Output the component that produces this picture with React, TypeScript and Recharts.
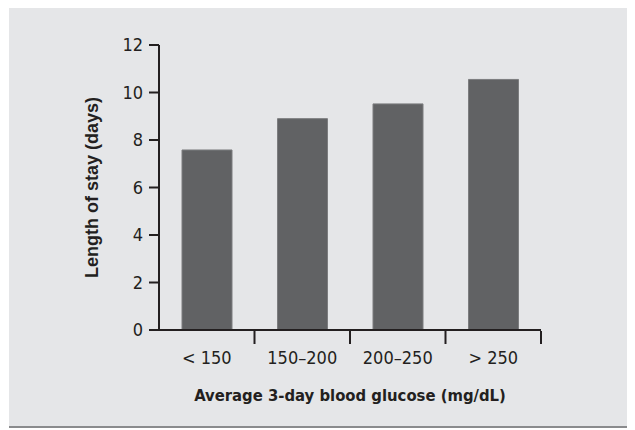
import { BarChart, Bar, XAxis, YAxis, Label } from 'recharts';

const categories = ['< 150', '150–200', '200–250', '> 250'];
const lengthOfStay = [7.58, 8.9, 9.52, 10.55];
const yTicks = [0, 2, 4, 6, 8, 10, 12];
const edgeTicks = [1, 2, 3, 4];

const data = categories.map((c, i) => ({ group: c, days: lengthOfStay[i] }));

const narrow = '"DejaVu Sans Condensed", "Liberation Sans", sans-serif';
const ink = '#231f20';

const NoLabel = () => <g />;

export default function App() {
  return (
    <div
      style={{
        marginLeft: 1,
        width: 626,
        height: 418,
        background: '#e5e6e8',
        borderBottom: '2px solid #8a8b8d',
      }}
    >
      <BarChart width={626} height={418} data={data} margin={{ top: 37, right: 94, bottom: 94, left: 80 }}>
        <XAxis
          xAxisId="cat"
          dataKey="group"
          height={1}
          axisLine={{ stroke: ink, strokeWidth: 2 }}
          tickLine={false}
          tickSize={0}
          tickMargin={21}
          tick={{ fill: ink, fontSize: 18, fontFamily: narrow }}
        >
          <Label
            value="Average 3-day blood glucose (mg/dL)"
            position="bottom"
            offset={58}
            style={{ fill: ink, fontSize: 16.5, fontWeight: 'bold', fontFamily: narrow }}
          />
        </XAxis>
        <XAxis
          xAxisId="edges"
          dataKey="days"
          type="number"
          domain={[0, 4]}
          ticks={edgeTicks}
          interval={0}
          allowDataOverflow
          height={1}
          axisLine={false}
          tick={NoLabel}
          tickSize={13}
          tickLine={{ stroke: ink, strokeWidth: 2 }}
        />
        <YAxis
          width={70}
          domain={[0, 12]}
          ticks={yTicks}
          interval={0}
          axisLine={{ stroke: ink, strokeWidth: 2 }}
          tickLine={{ stroke: ink, strokeWidth: 2 }}
          tickSize={10}
          tickMargin={6}
          tick={{ fill: ink, fontSize: 18, fontFamily: narrow }}
        >
          <Label
            value="Length of stay (days)"
            angle={-90}
            position="center"
            dx={-32}
            style={{ fill: ink, fontSize: 18, fontWeight: 'bold', fontFamily: '"Liberation Sans", sans-serif' }}
          />
        </YAxis>
        <Bar
          xAxisId="cat"
          dataKey="days"
          barSize={50}
          fill="#616264"
          stroke="#7c7d7f"
          strokeWidth={1}
          isAnimationActive={false}
        />
      </BarChart>
    </div>
  );
}
